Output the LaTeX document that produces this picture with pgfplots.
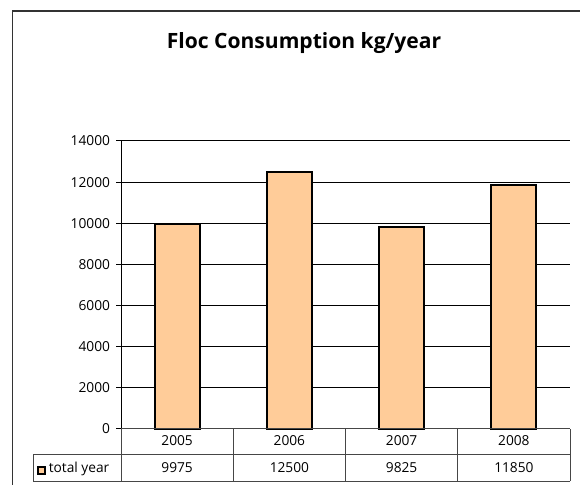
\documentclass[border=0pt]{standalone}
\usepackage{fontspec}
\setmainfont{Open Sans}
\usepackage{pgfplots}
\pgfplotsset{compat=1.18}
\definecolor{barfill}{RGB}{255,204,153}
\definecolor{framegray}{RGB}{51,51,51}
\definecolor{tablegray}{RGB}{70,70,70}
\begin{document}
\begin{tikzpicture}[x=0.75pt,y=0.75pt]
\useasboundingbox (0,0) rectangle (580,484);
% chart area frame (runs off to the right and bottom)
\begin{scope}
\clip (0,0) rectangle (580,484);
\draw[framegray, line width=1.3pt] (12.5,-10) -- (12.5,473) -- (600,473);
\end{scope}
% title
\node[anchor=base, font=\bfseries\fontsize{15.8}{18}\selectfont] at (304,435.7) {Floc Consumption kg/year};
\begin{axis}[
  at={(90.75pt,41.25pt)}, anchor=south west,
  scale only axis,
  width=336.75pt, height=216pt,
  xmin=0, xmax=4, ymin=0, ymax=14000,
  xtick=\empty,
  ytick={0,2000,...,14000},
  axis x line=none,
  axis y line*=left,
  y axis line style={-, black, line width=0.75pt},
  ymajorgrids,
  grid style={black, line width=0.75pt},
  major tick length=3.75pt,
  tick align=outside,
  tick style={black, line width=0.75pt},
  yticklabel style={font=\fontsize{10.3}{12}\selectfont, xshift=-1pt},
  /pgf/number format/assume math mode=true,
  scaled y ticks=false,
  yticklabel={\pgfmathprintnumber[fixed,1000 sep={}]{\tick}},
  clip=false,
]
\addplot[ybar, bar width=33.75pt, fill=barfill, draw=black, line width=1.5pt]
  coordinates {(0.5,9975) (1.5,12500) (2.5,9825) (3.5,11850)};
\end{axis}
% data table below the plot
\begin{scope}[tablegray, line width=0.75pt]
\draw (121,55) -- (570,55);
\draw (33,29) -- (570,29);
\draw (33,3) -- (570,3);
\draw (33,3) -- (33,29);
\foreach \x in {121,233.25,345.5,457.75,570} \draw (\x,3) -- (\x,55);
\end{scope}
\begin{scope}[font=\fontsize{10.3}{12}\selectfont]
\foreach \lab [count=\i] in {2005,2006,2007,2008}
  \node[anchor=base] at ({121+112.25*(\i-0.5)},38) {\lab};
\foreach \val [count=\i] in {9975,12500,9825,11850}
  \node[anchor=base] at ({121+112.25*(\i-0.5)},12) {\val};
\node[anchor=base west, inner sep=0pt] at (48.5,12) {total year};
\end{scope}
\draw[fill=barfill, draw=black, line width=1.4pt] (38.3,10.4) rectangle (44.7,17.4);
\end{tikzpicture}
\end{document}
